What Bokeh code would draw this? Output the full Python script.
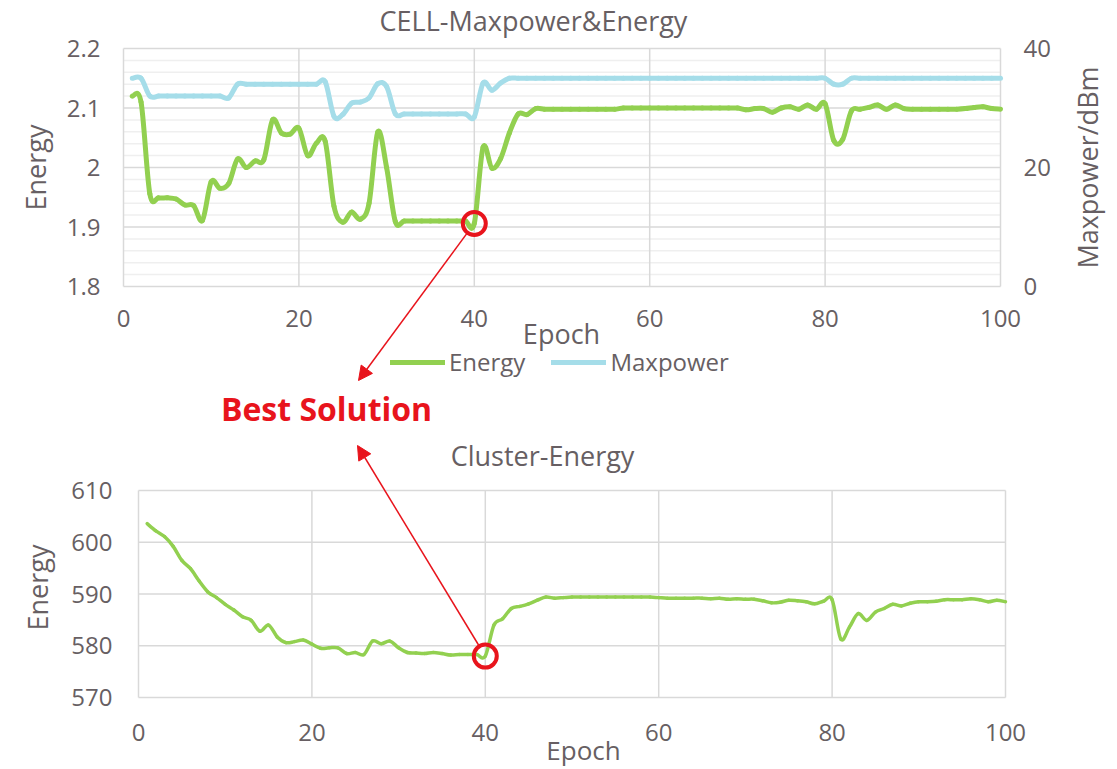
import math
from bokeh.plotting import figure
from bokeh.models import (Range1d, LinearAxis, FixedTicker, Legend, LegendItem, Label,
                          Arrow, NormalHead, ColumnDataSource, NumeralTickFormatter)
from bokeh.embed import file_html
from bokeh.resources import INLINE

FONT = "Open Sans"
TXT = "#675f63"
GRID = "#d9d9d9"
MINOR = "#efefef"
GREEN = "#92d050"
BLUE = "#a5dde9"
RED = "#e8141c"

# ---------------- data ----------------
epochs = list(range(1, 101))

cell_energy = [
    2.12, 2.11, 1.956, 1.949, 1.949, 1.947, 1.937, 1.936, 1.911, 1.976,
    1.965, 1.973, 2.014, 2.000, 2.011, 2.013, 2.080, 2.058, 2.056, 2.066,
    2.020, 2.041, 2.044, 1.935, 1.908, 1.925, 1.913, 1.940, 2.060, 2.000,
    1.909, 1.910, 1.910, 1.910, 1.910, 1.910, 1.910, 1.910, 1.910, 1.906,
    2.034, 1.999, 2.015, 2.058, 2.090, 2.089, 2.099, 2.098, 2.098, 2.098,
    2.098, 2.098, 2.098, 2.098, 2.098, 2.098, 2.100, 2.100, 2.100, 2.100,
    2.100, 2.100, 2.100, 2.100, 2.100, 2.100, 2.100, 2.100, 2.100, 2.100,
    2.097, 2.099, 2.099, 2.093, 2.100, 2.102, 2.098, 2.105, 2.098, 2.107,
    2.045, 2.047, 2.095, 2.098, 2.101, 2.105, 2.098, 2.105, 2.099, 2.098,
    2.098, 2.098, 2.098, 2.098, 2.098, 2.099, 2.101, 2.102, 2.099, 2.098,
]

cell_maxpower = [
    35.0, 35.0, 32.0, 32.0, 32.0, 32.0, 32.0, 32.0, 32.0, 32.0,
    32.0, 31.7, 34.0, 34.0, 34.0, 34.0, 34.0, 34.0, 34.0, 34.0,
    34.0, 34.0, 34.4, 28.6, 28.9, 30.8, 31.0, 31.7, 34.1, 33.6,
    29.0, 29.0, 29.0, 29.0, 29.0, 29.0, 29.0, 29.0, 29.0, 28.5,
    34.2, 33.0, 34.2, 35.0, 35.0, 35.0, 35.0, 35.0, 35.0, 35.0,
    35.0, 35.0, 35.0, 35.0, 35.0, 35.0, 35.0, 35.0, 35.0, 35.0,
    35.0, 35.0, 35.0, 35.0, 35.0, 35.0, 35.0, 35.0, 35.0, 35.0,
    35.0, 35.0, 35.0, 35.0, 35.0, 35.0, 35.0, 35.0, 35.0, 35.0,
    34.0, 34.0, 35.0, 35.0, 35.0, 35.0, 35.0, 35.0, 35.0, 35.0,
    35.0, 35.0, 35.0, 35.0, 35.0, 35.0, 35.0, 35.0, 35.0, 35.0,
]

cluster_energy = [
    603.6, 602.2, 601.1, 599.2, 596.5, 594.9, 592.5, 590.4, 589.3, 588.0,
    586.9, 585.6, 584.9, 582.8, 584.0, 581.7, 580.6, 580.8, 581.1, 580.3,
    579.5, 579.6, 579.6, 578.5, 578.7, 578.3, 580.9, 580.4, 580.9, 579.6,
    578.7, 578.6, 578.5, 578.7, 578.5, 578.2, 578.3, 578.3, 578.3, 578.0,
    584.0, 585.2, 587.2, 587.6, 588.1, 588.8, 589.4, 589.2, 589.3, 589.4,
    589.4, 589.4, 589.4, 589.4, 589.4, 589.4, 589.4, 589.4, 589.4, 589.3,
    589.2, 589.2, 589.2, 589.2, 589.2, 589.1, 589.2, 589.0, 589.1, 589.0,
    589.0, 588.7, 588.3, 588.4, 588.8, 588.7, 588.5, 588.1, 588.6, 588.9,
    581.3, 583.6, 586.2, 584.9, 586.5, 587.2, 588.0, 587.7, 588.2, 588.5,
    588.5, 588.6, 588.9, 588.9, 588.9, 589.1, 588.9, 588.5, 588.8, 588.5,
]

x_ticks = [0, 20, 40, 60, 80, 100]
cell_energy_ticks = [1.8, 1.9, 2.0, 2.1, 2.2]
maxpower_ticks = [0, 20, 40]
cluster_ticks = [570, 580, 590, 600, 610]

best_idx = cluster_energy.index(min(cluster_energy))
best_epoch = epochs[best_idx]

# ---------------- page layout (pixels) ----------------
W, H = 1117, 769
# (value0, value1, pixel0, pixel1)
TOP_X = (0, 100, 123, 1000)
TOP_Y = (1.8, 2.2, 286, 48)
TOP_MP = (0, 40, 286, 48)
BOT_X = (0, 100, 138, 1005)
BOT_Y = (570, 610, 697, 490)


def to_px(spec, v):
    v0, v1, p0, p1 = spec
    return p0 + (v - v0) * (p1 - p0) / (v1 - v0)


def from_px(spec, px):
    v0, v1, p0, p1 = spec
    return v0 + (px - p0) * (v1 - v0) / (p1 - p0)


def hrange(spec):
    return Range1d(from_px(spec, 0), from_px(spec, W))


def vrange(spec):
    return Range1d(from_px(spec, H), from_px(spec, 0))


def smooth(xs, ys):
    # Bezier control points (Catmull-Rom style) so that the curve passes
    # through every data point, like a spreadsheet "smoothed line"
    n = len(xs)
    d = {k: [] for k in ("x0", "y0", "x1", "y1", "cx0", "cy0", "cx1", "cy1")}
    for i in range(n - 1):
        a, b = max(i - 1, 0), min(i + 2, n - 1)
        d["x0"].append(xs[i]); d["y0"].append(ys[i])
        d["x1"].append(xs[i + 1]); d["y1"].append(ys[i + 1])
        d["cx0"].append(xs[i] + (xs[i + 1] - xs[a]) / 6.0)
        d["cy0"].append(ys[i] + (ys[i + 1] - ys[a]) / 6.0)
        d["cx1"].append(xs[i + 1] - (xs[b] - xs[i]) / 6.0)
        d["cy1"].append(ys[i + 1] - (ys[b] - ys[i]) / 6.0)
    return ColumnDataSource(d)


p = figure(width=W, height=H, x_range=Range1d(0, W), y_range=Range1d(H, 0),
           x_axis_type=None, y_axis_type=None,
           min_border_left=0, min_border_right=0, min_border_top=0, min_border_bottom=0,
           output_backend="svg", toolbar_location=None,
           background_fill_color="white", border_fill_color="white")
p.outline_line_color = None
p.extra_x_ranges = {"tx": hrange(TOP_X), "bx": hrange(BOT_X)}
p.extra_y_ranges = {"ty": vrange(TOP_Y), "tmp": vrange(TOP_MP), "by": vrange(BOT_Y)}


def style_axis(ax, standoff, tick_size="24px"):
    ax.axis_line_color = None
    ax.major_tick_line_color = None
    ax.minor_tick_line_color = None
    ax.major_tick_out = 0
    ax.major_tick_in = 0
    ax.minor_tick_out = 0
    ax.minor_tick_in = 0
    ax.major_label_text_font = FONT
    ax.major_label_text_font_size = tick_size
    ax.major_label_text_color = TXT
    ax.major_label_standoff = standoff


def txt(x, y, text, size="27px", angle=0.0, color=TXT, style="normal"):
    p.add_layout(Label(x=x, y=y, text=text, angle=angle,
                       text_align="center", text_baseline="middle",
                       text_font=FONT, text_font_size=size,
                       text_font_style=style, text_color=color))


BEZ = ("x0", "y0", "x1", "y1", "cx0", "cy0", "cx1", "cy1")

# ---------------- top chart ----------------
minor1 = [round(1.8 + 0.02 * i, 2) for i in range(21)]
minor1 = [v for v in minor1 if v not in cell_energy_ticks]
p.segment(x0=[0] * len(minor1), y0=minor1, x1=[100] * len(minor1), y1=minor1,
          line_color=MINOR, line_width=1.5, x_range_name="tx", y_range_name="ty")
p.segment(x0=[0] * 5, y0=cell_energy_ticks, x1=[100] * 5, y1=cell_energy_ticks,
          line_color=GRID, line_width=1.5, x_range_name="tx", y_range_name="ty")
p.segment(x0=x_ticks, y0=[1.8] * 6, x1=x_ticks, y1=[2.2] * 6,
          line_color=GRID, line_width=1.5, x_range_name="tx", y_range_name="ty")

r_m = p.bezier(*BEZ, source=smooth(epochs, cell_maxpower), line_color=BLUE,
               line_width=5, line_cap="round", x_range_name="tx", y_range_name="tmp")
r_e = p.bezier(*BEZ, source=smooth(epochs, cell_energy), line_color=GREEN,
               line_width=5, line_cap="round", x_range_name="tx", y_range_name="ty")

ax = LinearAxis(x_range_name="tx", y_range_name="ty", fixed_location=1.8,
                ticker=FixedTicker(ticks=x_ticks))
style_axis(ax, 23)
p.add_layout(ax, "below")
ax = LinearAxis(x_range_name="tx", y_range_name="ty", fixed_location=0,
                ticker=FixedTicker(ticks=cell_energy_ticks),
                formatter=NumeralTickFormatter(format="0.[0]"))
style_axis(ax, 23)
p.add_layout(ax, "left")
ax = LinearAxis(x_range_name="tx", y_range_name="tmp", fixed_location=100,
                ticker=FixedTicker(ticks=maxpower_ticks))
style_axis(ax, 23)
p.add_layout(ax, "right")

txt(533, 20, "CELL-Maxpower&Energy", size="27px")
txt(35, 167, "Energy", angle=math.pi / 2)
txt(1087, 167, "Maxpower/dBm", angle=math.pi / 2)
txt(561, 333, "Epoch")

legend = Legend(items=[LegendItem(label="Energy", renderers=[r_e]),
                       LegendItem(label="Maxpower", renderers=[r_m])],
                orientation="horizontal", location=(390, H - 378),
                padding=0, margin=0, spacing=26, glyph_width=55,
                label_standoff=4, border_line_color=None,
                background_fill_alpha=0,
                label_text_font=FONT, label_text_font_size="24px",
                label_text_color=TXT)
p.add_layout(legend)

# ---------------- bottom chart ----------------
p.segment(x0=[0] * 5, y0=cluster_ticks, x1=[100] * 5, y1=cluster_ticks,
          line_color=GRID, line_width=1.5, x_range_name="bx", y_range_name="by")
p.segment(x0=x_ticks, y0=[570] * 6, x1=x_ticks, y1=[610] * 6,
          line_color=GRID, line_width=1.5, x_range_name="bx", y_range_name="by")
p.bezier(*BEZ, source=smooth(epochs, cluster_energy), line_color=GREEN,
         line_width=3.5, line_cap="round", x_range_name="bx", y_range_name="by")

ax = LinearAxis(x_range_name="bx", y_range_name="by", fixed_location=570,
                ticker=FixedTicker(ticks=x_ticks))
style_axis(ax, 26)
p.add_layout(ax, "below")
ax = LinearAxis(x_range_name="bx", y_range_name="by", fixed_location=0,
                ticker=FixedTicker(ticks=cluster_ticks))
style_axis(ax, 26)
p.add_layout(ax, "left")

txt(542, 455, "Cluster-Energy", size="27px")
txt(37, 587, "Energy", angle=math.pi / 2)
txt(583, 749, "Epoch", size="26px")

# ---------------- best solution markers & arrows ----------------
best_e = cell_energy[best_idx]
best_c = cluster_energy[best_idx]
p.scatter([best_epoch], [best_e], marker="circle", size=23, fill_color=None,
          line_color=RED, line_width=4, x_range_name="tx", y_range_name="ty")
p.scatter([best_epoch], [best_c], marker="circle", size=23, fill_color=None,
          line_color=RED, line_width=4, x_range_name="bx", y_range_name="by")

txt(326, 408, "Best Solution", size="32px", color=RED, style="bold")


def add_arrow(cx, cy, ex, ey, r=13):
    d = math.hypot(ex - cx, ey - cy)
    sx, sy = cx + (ex - cx) / d * r, cy + (ey - cy) / d * r
    p.add_layout(Arrow(x_start=sx, y_start=sy, x_end=ex, y_end=ey,
                       line_color=RED, line_width=1.5,
                       end=NormalHead(size=14, fill_color=RED, line_color=RED)))


add_arrow(to_px(TOP_X, best_epoch), to_px(TOP_Y, best_e), 358, 380)
add_arrow(to_px(BOT_X, best_epoch), to_px(BOT_Y, best_c), 357, 445)

open("out.html", "w").write(file_html(p, INLINE))
